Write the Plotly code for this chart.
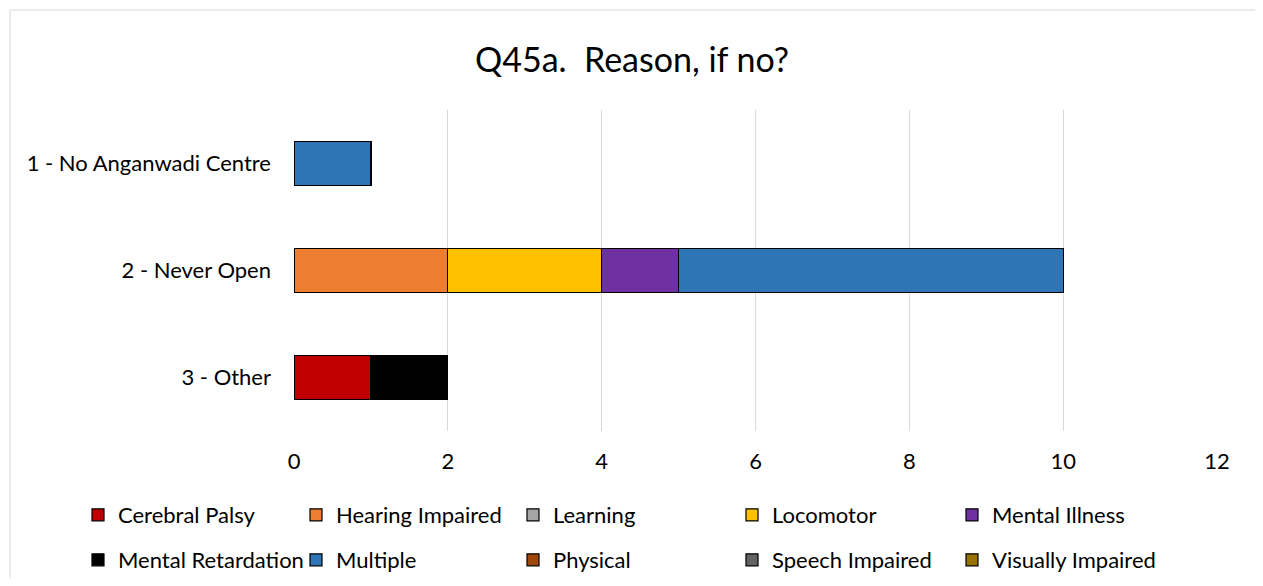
import plotly.graph_objects as go

categories = ["1 - No Anganwadi Centre", "2 - Never Open", "3 - Other"]
series_names = ["Cerebral Palsy", "Hearing Impaired", "Learning", "Locomotor", "Mental Illness",
                "Mental Retardation", "Multiple", "Physical", "Speech Impaired", "Visually Impaired"]
cerebral_palsy = [0, 0, 1]
hearing_impaired = [0, 2, 0]
learning = [0, 0, 0]
locomotor = [0, 2, 0]
mental_illness = [0, 1, 0]
mental_retardation = [0, 0, 1]
multiple = [1, 5, 0]
physical = [0, 0, 0]
speech_impaired = [0, 0, 0]
visually_impaired = [0, 0, 0]
x_ticks = [0, 2, 4, 6, 8, 10, 12]

values = [cerebral_palsy, hearing_impaired, learning, locomotor, mental_illness,
          mental_retardation, multiple, physical, speech_impaired, visually_impaired]
colors = ["#C00000", "#ED7D31", "#A5A5A5", "#FFC000", "#7030A0",
          "#000000", "#2E75B6", "#9E480E", "#636363", "#997300"]

FONT = "Lato"
OFF = 8  # default page body margin
# target screen-pixel geometry
S_L, S_R, S_T, S_B = 294, 1217, 110, 431
W, H = 1263 - OFF, 586 - 2 * OFF
L, R, T, B = S_L - OFF, S_R - OFF, S_T - OFF, S_B - OFF


def px_x(p):
    return (p - OFF - L) / (R - L)


def px_y(p):
    return (B - (p - OFF)) / (B - T)


# legend text start x per column, row y centres (screen pixels)
col_text = [118, 336, 553, 772, 992]
row_y = [515, 560]

fig = go.Figure()
layout_legends = {}
for i, (name, vals, col) in enumerate(zip(series_names, values, colors)):
    lname = "legend" if i == 0 else f"legend{i+1}"
    fig.add_trace(go.Bar(
        name=name, y=categories, x=[v if v != 0 else None for v in vals],
        orientation="h", marker=dict(color=col, line=dict(color="#000000", width=1.2)),
        legend=lname, hoverinfo="x+name",
    ))
    c = i % 5
    r = i // 5
    layout_legends[lname] = dict(
        x=px_x(col_text[c] - 40), xanchor="left",
        y=px_y(row_y[r]), yanchor="middle",
        orientation="v", bgcolor="rgba(0,0,0,0)", borderwidth=0,
        font=dict(family=FONT, size=22, color="#000000"),
    )

fig.update_layout(
    width=W, height=H, showlegend=True,
    margin=dict(l=L, r=W - R, t=T, b=H - B, pad=0, autoexpand=False),
    paper_bgcolor="white", plot_bgcolor="white",
    barmode="stack", bargap=0.59,
    title=dict(text="Q45a.\u00a0 Reason, if no?", x=(632 - OFF) / W, xanchor="center",
               y=1 - (60 - OFF) / H, yanchor="middle",
               font=dict(family=FONT, size=34, color="#000000")),
    xaxis=dict(range=[0, 12], tickvals=x_ticks, showgrid=True, gridcolor="#D9D9D9", gridwidth=1.3,
               zeroline=False, showline=False, ticks="", ticklabelstandoff=15,
               tickfont=dict(family=FONT, size=22, color="#000000")),
    yaxis=dict(autorange="reversed", showgrid=False, showline=False, zeroline=False, ticks="",
               ticklabelstandoff=22,
               tickfont=dict(family=FONT, size=22, color="#000000")),
    shapes=[dict(type="rect", xref="paper", yref="paper",
                 x0=px_x(10), x1=px_x(1257), y0=px_y(620), y1=px_y(10),
                 line=dict(color="#D9D9D9", width=1), layer="below")],
    **layout_legends,
)

fig.write_html("out.html")
